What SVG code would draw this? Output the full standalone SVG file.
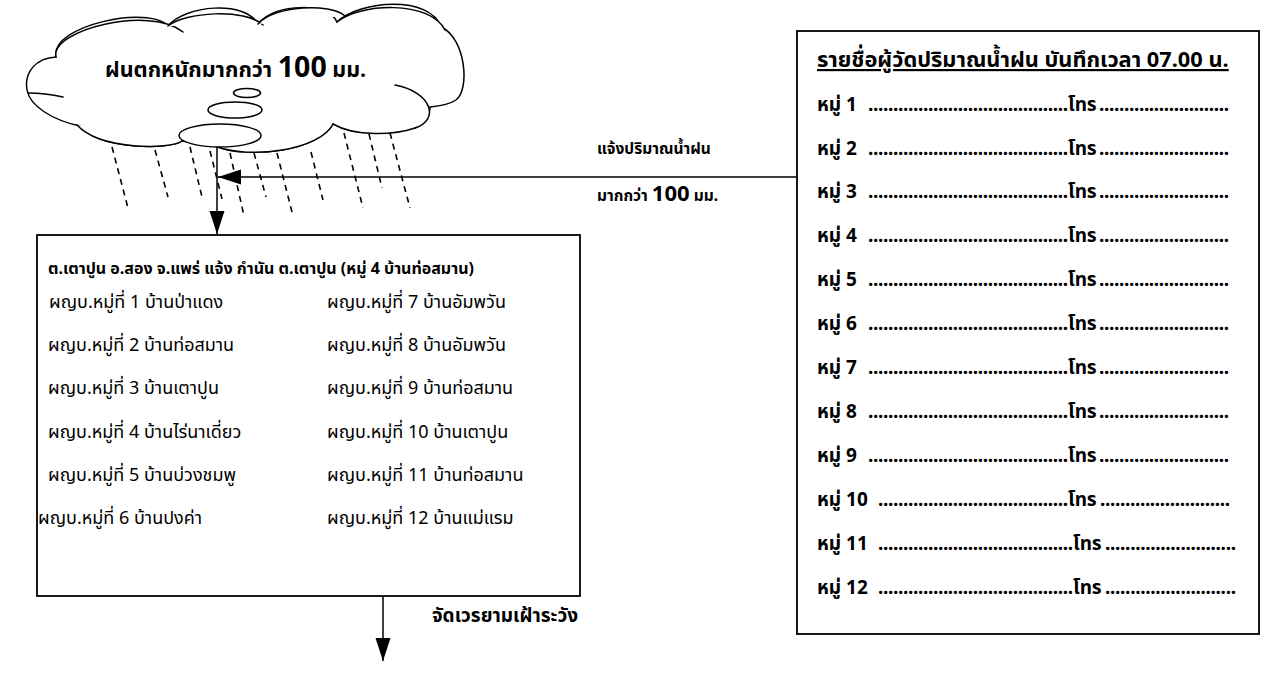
<svg xmlns="http://www.w3.org/2000/svg" width="1273" height="673" viewBox="0 0 1273 673">
  <style>
    text { font-family: "Noto Sans", "Noto Sans Thai", "DejaVu Sans", sans-serif; fill: #000; }
    .b { font-weight: bold; }
    .cloud-txt { font-size: 21.5px; }
    .cloud-num { font-size: 28.5px; }
    .lbl { font-size: 15.5px; }
    .lbl-num { font-size: 22px; }
    .lbl2 { font-size: 19px; }
    .head { font-size: 16px; }
    .row { font-size: 18px; }
    .list-head { font-size: 21.8px; }
    .list-row { font-size: 19px; }
    .line { fill: none; stroke: #000; stroke-width: 1.5; }
    .box { fill: #fff; stroke: #000; stroke-width: 1.8; }
    .cloud { fill: #fff; stroke: #000; stroke-width: 1.5; stroke-linecap: round; }
    .rain { fill: none; stroke: #000; stroke-width: 1.6; stroke-dasharray: 6 5; }
  </style>
  <defs>
    <marker id="arrow" markerUnits="userSpaceOnUse" markerWidth="26" markerHeight="16" refX="23" refY="7.5" orient="auto">
      <path d="M0,0 L23,7.5 L0,15 Z" fill="#000"/>
    </marker>
  </defs>

  <!-- rain streaks under the cloud -->
  <g id="rain">
    <line class="rain" x1="112" y1="147" x2="128" y2="208"/>
    <line class="rain" x1="155" y1="150" x2="168" y2="197"/>
    <line class="rain" x1="190" y1="147" x2="202" y2="197"/>
    <line class="rain" x1="210" y1="151" x2="222" y2="199"/>
    <line class="rain" x1="230" y1="153" x2="244" y2="216"/>
    <line class="rain" x1="254" y1="153" x2="266" y2="197"/>
    <line class="rain" x1="277" y1="153" x2="293" y2="216"/>
    <line class="rain" x1="311" y1="152" x2="323" y2="200"/>
    <line class="rain" x1="344" y1="133" x2="363" y2="208"/>
    <line class="rain" x1="369" y1="134" x2="382" y2="188"/>
    <line class="rain" x1="390" y1="133" x2="410" y2="208"/>
  </g>

  <!-- rain cloud -->
  <g id="cloud">
    <path class="cloud" d="M56,57 C36,58 24,72 27,90 C30,106 52,120 80,126 C100,150 170,150 182,141 L215,146 C250,160 320,150 333,124 C355,137 395,135 415,128 C425,124 430,115 430,107 C440,106 450,104 456,100 C470,90 466,38 441,27 C430,-5 360,0 337,22 C330,3 275,2 258,24 C245,0 185,5 168,26 C150,5 50,25 56,57 Z"/>
    <path class="cloud" fill="none" d="M56,57 C50,30 150,5 183,32"/>
    <path class="cloud" fill="none" d="M168,26 C185,12 245,8 263,25"/>
    <path class="cloud" fill="none" d="M258,24 C275,5 330,3 345,16"/>
    <path class="cloud" fill="none" d="M337,22 C360,3 430,0 445,30"/>
    <path class="cloud" fill="none" d="M395,85 C432,92 440,120 415,128"/>
    <path class="cloud" fill="none" d="M28,93 Q45,93 63,97"/>
    <path class="cloud" fill="none" d="M77,125 C100,150 170,150 182,141"/>
    <path class="cloud" fill="none" d="M333,124 C320,150 250,160 215,146"/>
    <ellipse class="cloud" cx="247" cy="93" rx="13.5" ry="4.5"/>
    <ellipse class="cloud" cx="235" cy="110" rx="27" ry="8"/>
    <ellipse class="cloud" cx="220" cy="135.5" rx="41" ry="11.5"/>
    <text class="b cloud-txt" x="105" y="77">ฝนตกหนักมากกว่า <tspan class="cloud-num">100</tspan> มม.</text>
  </g>

  <!-- connectors -->
  <g id="connectors">
    <line class="line" x1="217" y1="147" x2="217" y2="234" marker-end="url(#arrow)"/>
    <line class="line" x1="797" y1="177" x2="218" y2="177" marker-end="url(#arrow)"/>
    <line class="line" x1="383" y1="596" x2="383" y2="661" marker-end="url(#arrow)"/>
    <text class="b lbl" x="597" y="154">แจ้งปริมาณน้ำฝน</text>
    <text class="b lbl" x="597" y="201">มากกว่า <tspan class="lbl-num">100</tspan> มม.</text>
    <text class="b lbl2" x="432" y="622">จัดเวรยามเฝ้าระวัง</text>
  </g>

  <!-- village headmen notified -->
  <g id="notify-box">
    <rect class="box" x="37" y="235" width="543" height="361"/>
    <text class="b head" x="48" y="274">ต.เตาปูน อ.สอง จ.แพร่ แจ้ง กำนัน ต.เตาปูน (หมู่ 4 บ้านท่อสมาน)</text>
    <g class="row">
      <text x="49" y="308">ผญบ.หมู่ที่ 1 บ้านป่าแดง</text>
      <text x="48" y="351">ผญบ.หมู่ที่ 2 บ้านท่อสมาน</text>
      <text x="48" y="394">ผญบ.หมู่ที่ 3 บ้านเตาปูน</text>
      <text x="48" y="438">ผญบ.หมู่ที่ 4 บ้านไร่นาเดี่ยว</text>
      <text x="48" y="481">ผญบ.หมู่ที่ 5 บ้านบ่วงชมพู</text>
      <text x="38" y="524">ผญบ.หมู่ที่ 6 บ้านปงค่า</text>
      <text x="327" y="308">ผญบ.หมู่ที่ 7 บ้านอัมพวัน</text>
      <text x="327" y="351">ผญบ.หมู่ที่ 8 บ้านอัมพวัน</text>
      <text x="327" y="394">ผญบ.หมู่ที่ 9 บ้านท่อสมาน</text>
      <text x="327" y="438">ผญบ.หมู่ที่ 10 บ้านเตาปูน</text>
      <text x="327" y="481">ผญบ.หมู่ที่ 11 บ้านท่อสมาน</text>
      <text x="327" y="524">ผญบ.หมู่ที่ 12 บ้านแม่แรม</text>
    </g>
  </g>

  <!-- rainfall recorders list -->
  <g id="recorder-list">
    <rect class="box" x="797" y="31" width="462" height="603"/>
    <text class="b list-head" x="817" y="67" text-decoration="underline">รายชื่อผู้วัดปริมาณน้ำฝน บันทึกเวลา 07.00 น.</text>
    <g class="b list-row">
      <text x="817" y="111">หมู่ 1 <tspan x="868" textLength="200" lengthAdjust="spacing">........................................</tspan><tspan x="1068">โทร</tspan><tspan x="1099" textLength="130" lengthAdjust="spacing">..........................</tspan></text>
      <text x="817" y="155">หมู่ 2 <tspan x="868" textLength="200" lengthAdjust="spacing">........................................</tspan><tspan x="1068">โทร</tspan><tspan x="1099" textLength="130" lengthAdjust="spacing">..........................</tspan></text>
      <text x="817" y="198">หมู่ 3 <tspan x="868" textLength="200" lengthAdjust="spacing">........................................</tspan><tspan x="1068">โทร</tspan><tspan x="1099" textLength="130" lengthAdjust="spacing">..........................</tspan></text>
      <text x="817" y="242">หมู่ 4 <tspan x="868" textLength="200" lengthAdjust="spacing">........................................</tspan><tspan x="1068">โทร</tspan><tspan x="1099" textLength="130" lengthAdjust="spacing">..........................</tspan></text>
      <text x="817" y="286">หมู่ 5 <tspan x="868" textLength="200" lengthAdjust="spacing">........................................</tspan><tspan x="1068">โทร</tspan><tspan x="1099" textLength="130" lengthAdjust="spacing">..........................</tspan></text>
      <text x="817" y="330">หมู่ 6 <tspan x="868" textLength="200" lengthAdjust="spacing">........................................</tspan><tspan x="1068">โทร</tspan><tspan x="1099" textLength="130" lengthAdjust="spacing">..........................</tspan></text>
      <text x="817" y="374">หมู่ 7 <tspan x="868" textLength="200" lengthAdjust="spacing">........................................</tspan><tspan x="1068">โทร</tspan><tspan x="1099" textLength="130" lengthAdjust="spacing">..........................</tspan></text>
      <text x="817" y="418">หมู่ 8 <tspan x="868" textLength="200" lengthAdjust="spacing">........................................</tspan><tspan x="1068">โทร</tspan><tspan x="1099" textLength="130" lengthAdjust="spacing">..........................</tspan></text>
      <text x="817" y="462">หมู่ 9 <tspan x="868" textLength="200" lengthAdjust="spacing">........................................</tspan><tspan x="1068">โทร</tspan><tspan x="1099" textLength="130" lengthAdjust="spacing">..........................</tspan></text>
      <text x="817" y="506">หมู่ 10 <tspan x="878" textLength="190" lengthAdjust="spacing">......................................</tspan><tspan x="1068">โทร</tspan><tspan x="1100" textLength="130" lengthAdjust="spacing">..........................</tspan></text>
      <text x="817" y="550">หมู่ 11 <tspan x="878" textLength="195" lengthAdjust="spacing">.......................................</tspan><tspan x="1073">โทร</tspan><tspan x="1105" textLength="131" lengthAdjust="spacing">..........................</tspan></text>
      <text x="817" y="594">หมู่ 12 <tspan x="878" textLength="195" lengthAdjust="spacing">.......................................</tspan><tspan x="1073">โทร</tspan><tspan x="1105" textLength="131" lengthAdjust="spacing">..........................</tspan></text>
    </g>
  </g>
</svg>
